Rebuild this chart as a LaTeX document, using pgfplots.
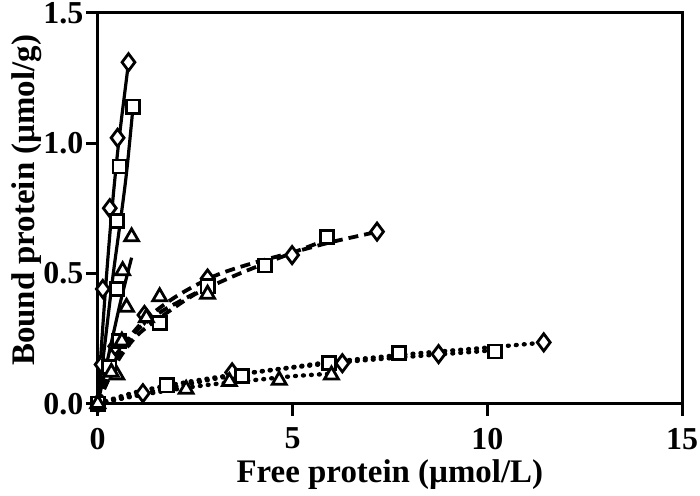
\documentclass[border=0pt]{standalone}
\usepackage{fontspec}
\setmainfont{Liberation Serif}
\usepackage{pgfplots}
\pgfplotsset{compat=1.18}
\begin{document}
\begin{tikzpicture}[x=1pt,y=1pt]
\begin{axis}[
  scale only axis, width=293pt, height=196pt,
  xmin=0, xmax=15, ymin=0, ymax=1.5,
  clip=false,
  axis line style={line width=1.5pt},
  xtick={0,5,10,15}, ytick={0,0.5,1.0,1.5},
  tick align=outside, tick pos=left,
  major tick length=6pt,
  every tick/.style={line width=1.5pt,black},
  /pgf/number format/assume math mode=true,
  ticklabel style={font=\fontsize{16}{17}\selectfont\bfseries, inner sep=1pt},
  yticklabel style={xshift=0pt,/pgf/number format/.cd,fixed,fixed zerofill,precision=1},
  xticklabel style={yshift=-5pt,/pgf/number format/.cd,fixed,precision=0},
  xlabel={Free protein (\textmu mol/L)},
  ylabel={Bound protein (\textmu mol/g)},
  label style={font=\fontsize{16.5}{17}\selectfont\bfseries},
  xlabel style={at={(axis description cs:0.5,0)}, anchor=north, inner sep=0pt, yshift=-28pt},
  ylabel style={at={(axis description cs:-0.095,0.52)}, anchor=south, inner sep=0pt},
  mk/.style={only marks, mark options={solid, fill=white, line width=1.4pt}},
]
% ---- fitted lines: solid ----
\addplot[line width=1.6pt, smooth] coordinates {(0,0)(0.1,0.23)(0.2,0.44)(0.3,0.63)(0.4,0.80)(0.5,0.95)(0.6,1.08)(0.7,1.20)(0.8,1.32)};
\addplot[line width=1.6pt, smooth] coordinates {(0,0)(0.2,0.25)(0.4,0.50)(0.6,0.72)(0.75,0.90)(0.92,1.16)};
\addplot[line width=1.6pt, smooth] coordinates {(0,0)(0.3,0.20)(0.6,0.40)(0.87,0.56)};
% ---- fitted lines: dashed ----
\addplot[line width=1.9pt, dash pattern=on 5pt off 3pt, smooth] coordinates {(0,0)(0.3,0.12)(0.7,0.23)(1.2,0.32)(2,0.41)(3,0.49)(4,0.54)(5,0.58)(6,0.62)(7.2,0.66)};
\addplot[line width=1.9pt, dash pattern=on 5pt off 3pt, smooth] coordinates {(0,0)(0.5,0.16)(1,0.26)(1.6,0.33)(2.5,0.42)(3.5,0.49)(4.5,0.55)(5.9,0.63)};
\addplot[line width=1.9pt, dash pattern=on 5pt off 3pt, smooth] coordinates {(0,0)(0.5,0.17)(1,0.28)(1.6,0.35)(2.2,0.40)(2.85,0.45)};
% ---- fitted lines: dotted ----
\addplot[line width=2.2pt, line cap=round, dash pattern=on 0.4pt off 3.6pt, smooth] coordinates {(0,0)(1,0.035)(2,0.065)(3,0.095)(4,0.12)(5,0.14)(6,0.16)(8,0.19)(10,0.215)(11.5,0.235)};
\addplot[line width=2.2pt, line cap=round, dash pattern=on 0.4pt off 3.6pt, smooth] coordinates {(0,0)(1,0.045)(2,0.075)(3,0.10)(4,0.12)(6,0.155)(8,0.18)(10.2,0.205)};
\addplot[line width=2.2pt, line cap=round, dash pattern=on 0.4pt off 3.6pt, smooth] coordinates {(0,0)(1,0.03)(2,0.055)(3,0.075)(4,0.09)(5,0.105)(6,0.115)};
% ---- data: solid group ----
\addplot[mk, mark=diamond*, mark size=4.3pt] coordinates {(0,0)(0.13,0.44)(0.31,0.75)(0.51,1.02)(0.79,1.31)};
\addplot[mk, mark=square*, mark size=3.3pt] coordinates {(0,0)(0.25,0.14)(0.49,0.44)(0.49,0.70)(0.56,0.91)(0.9,1.14)};
\addplot[mk, mark=triangle*, mark size=4pt] coordinates {(0,0)(0.49,0.11)(0.74,0.37)(0.64,0.51)(0.87,0.64)};
% ---- data: dashed group ----
\addplot[mk, mark=diamond*, mark size=4.3pt] coordinates {(0.1,0.15)(0.45,0.22)(1.2,0.34)(2.82,0.48)(4.99,0.57)(7.17,0.66)};
\addplot[mk, mark=square*, mark size=3.3pt] coordinates {(0.3,0.14)(0.55,0.24)(1.59,0.31)(2.82,0.45)(4.3,0.53)(5.89,0.64)};
\addplot[mk, mark=triangle*, mark size=4pt] coordinates {(0.35,0.12)(0.62,0.24)(1.25,0.33)(1.59,0.41)(2.82,0.42)};
% ---- data: dotted group ----
\addplot[mk, mark=diamond*, mark size=4.3pt] coordinates {(1.16,0.04)(3.45,0.12)(6.28,0.155)(8.75,0.19)(11.45,0.235)};
\addplot[mk, mark=square*, mark size=3.3pt] coordinates {(1.77,0.07)(3.7,0.105)(5.94,0.155)(7.73,0.195)(10.2,0.20)};
\addplot[mk, mark=triangle*, mark size=4pt] coordinates {(2.27,0.055)(3.38,0.085)(4.66,0.09)(6.0,0.11)};
\end{axis}
\path (-49pt,-46pt) rectangle (301pt,202pt);
\end{tikzpicture}
\end{document}
